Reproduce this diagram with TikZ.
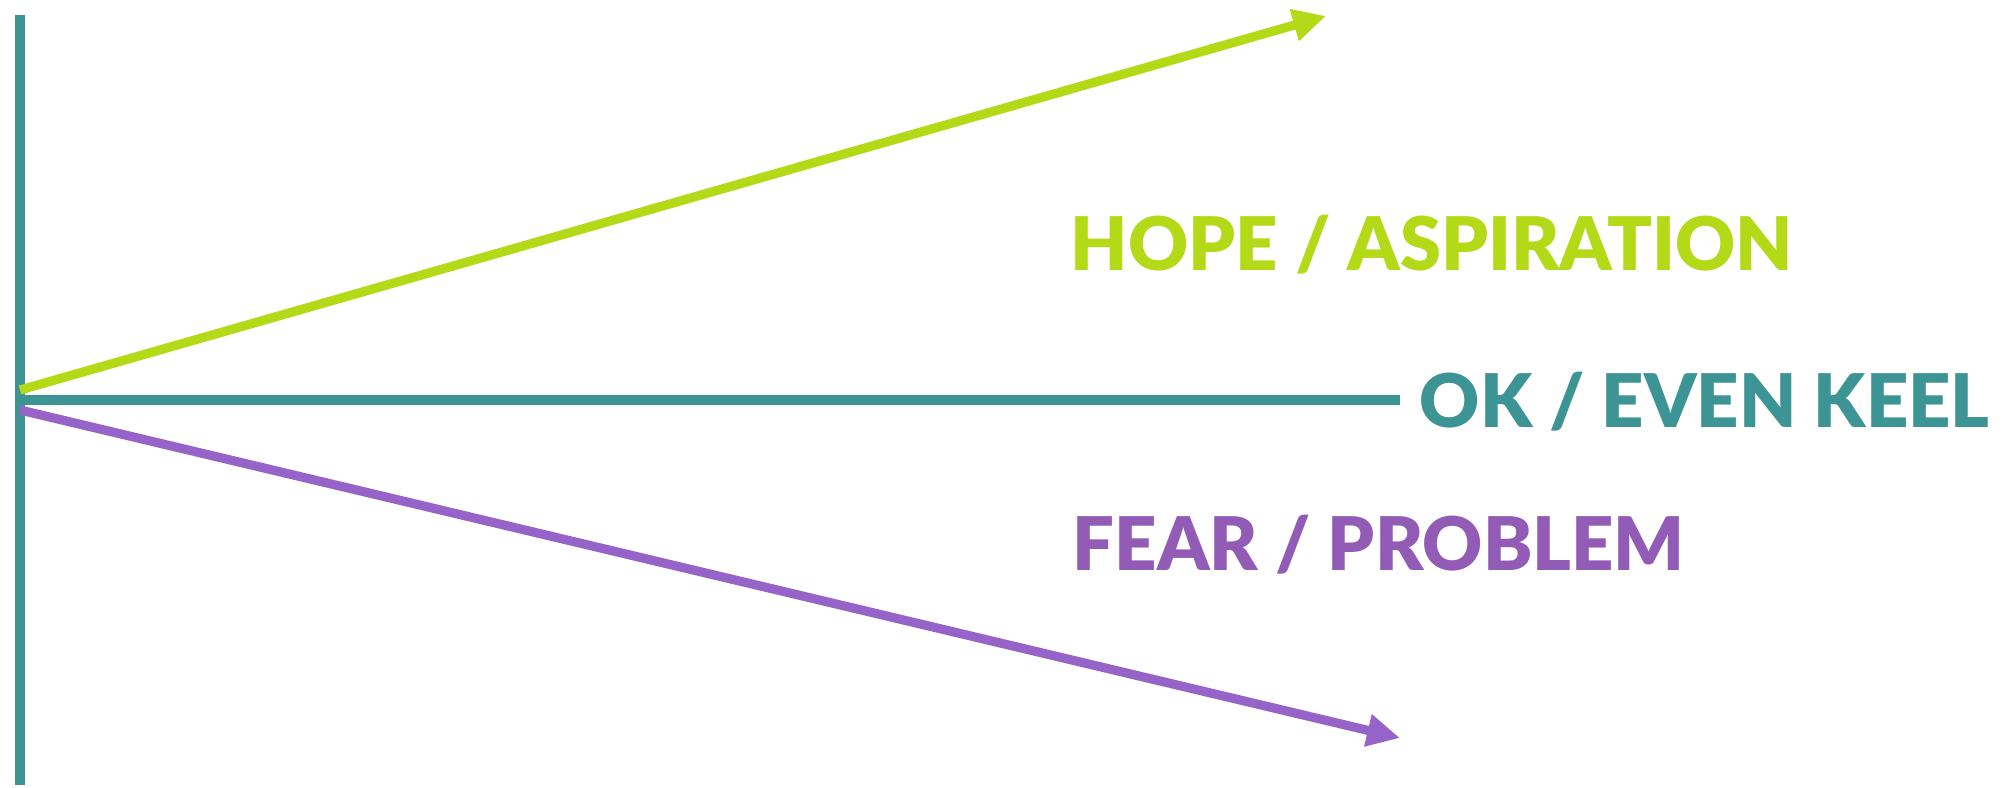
\documentclass[tikz,border=0pt]{standalone}
\usepackage{fontspec}
\setmainfont{Lato}[BoldFont={Lato Black}]
\usepackage{tikz}
\usetikzlibrary{arrows.meta, positioning}
\definecolor{hopegreen}{RGB}{180,217,22}
\definecolor{keelteal}{RGB}{61,148,148}
\definecolor{fearpurple}{RGB}{150,100,200}
\definecolor{feartext}{RGB}{146,92,182}
\tikzset{
	axisline/.style={line width=2.85pt, keelteal}
}
\tikzset{
	moodarrow/.style={line width=2.6pt, -{Triangle[length=3.3mm, width=3.1mm]}}
}
\tikzset{
	moodlabel/.style={anchor=base west, inner sep=0pt, font=\fontsize{21.05}{24}\selectfont\bfseries}
}

\begin{document}
\begin{tikzpicture}[x=0.1mm, y=-0.1mm]
      \useasboundingbox (0,0) rectangle (2008,787);
      \coordinate (top) at (20,15);
      \coordinate (bottom) at (20,785);
      \coordinate (origin) at (20,400);
      \coordinate (hopetip) at (1326,16);
      \coordinate (keelend) at (1400,400);
      \coordinate (feartip) at (1400,738);
      % vertical axis and the three moods
      \draw[axisline] (top) -- (bottom);
      \draw[moodarrow, hopegreen] ([yshift=1mm]origin) -- (hopetip);
      \draw[moodarrow, fearpurple] ([yshift=-1mm]origin) -- (feartip);
      \draw[axisline] (origin) -- (keelend);
      \node[moodlabel, text=hopegreen] (hope) at (1070,270) {HOPE / ASPIRATION};
      \node[moodlabel, text=keelteal] (keel) at (1419,427) {OK / EVEN KEEL};
      \node[moodlabel, text=feartext] (fear) at (1072,570) {FEAR / PROBLEM};
    \end{tikzpicture}
\end{document}
